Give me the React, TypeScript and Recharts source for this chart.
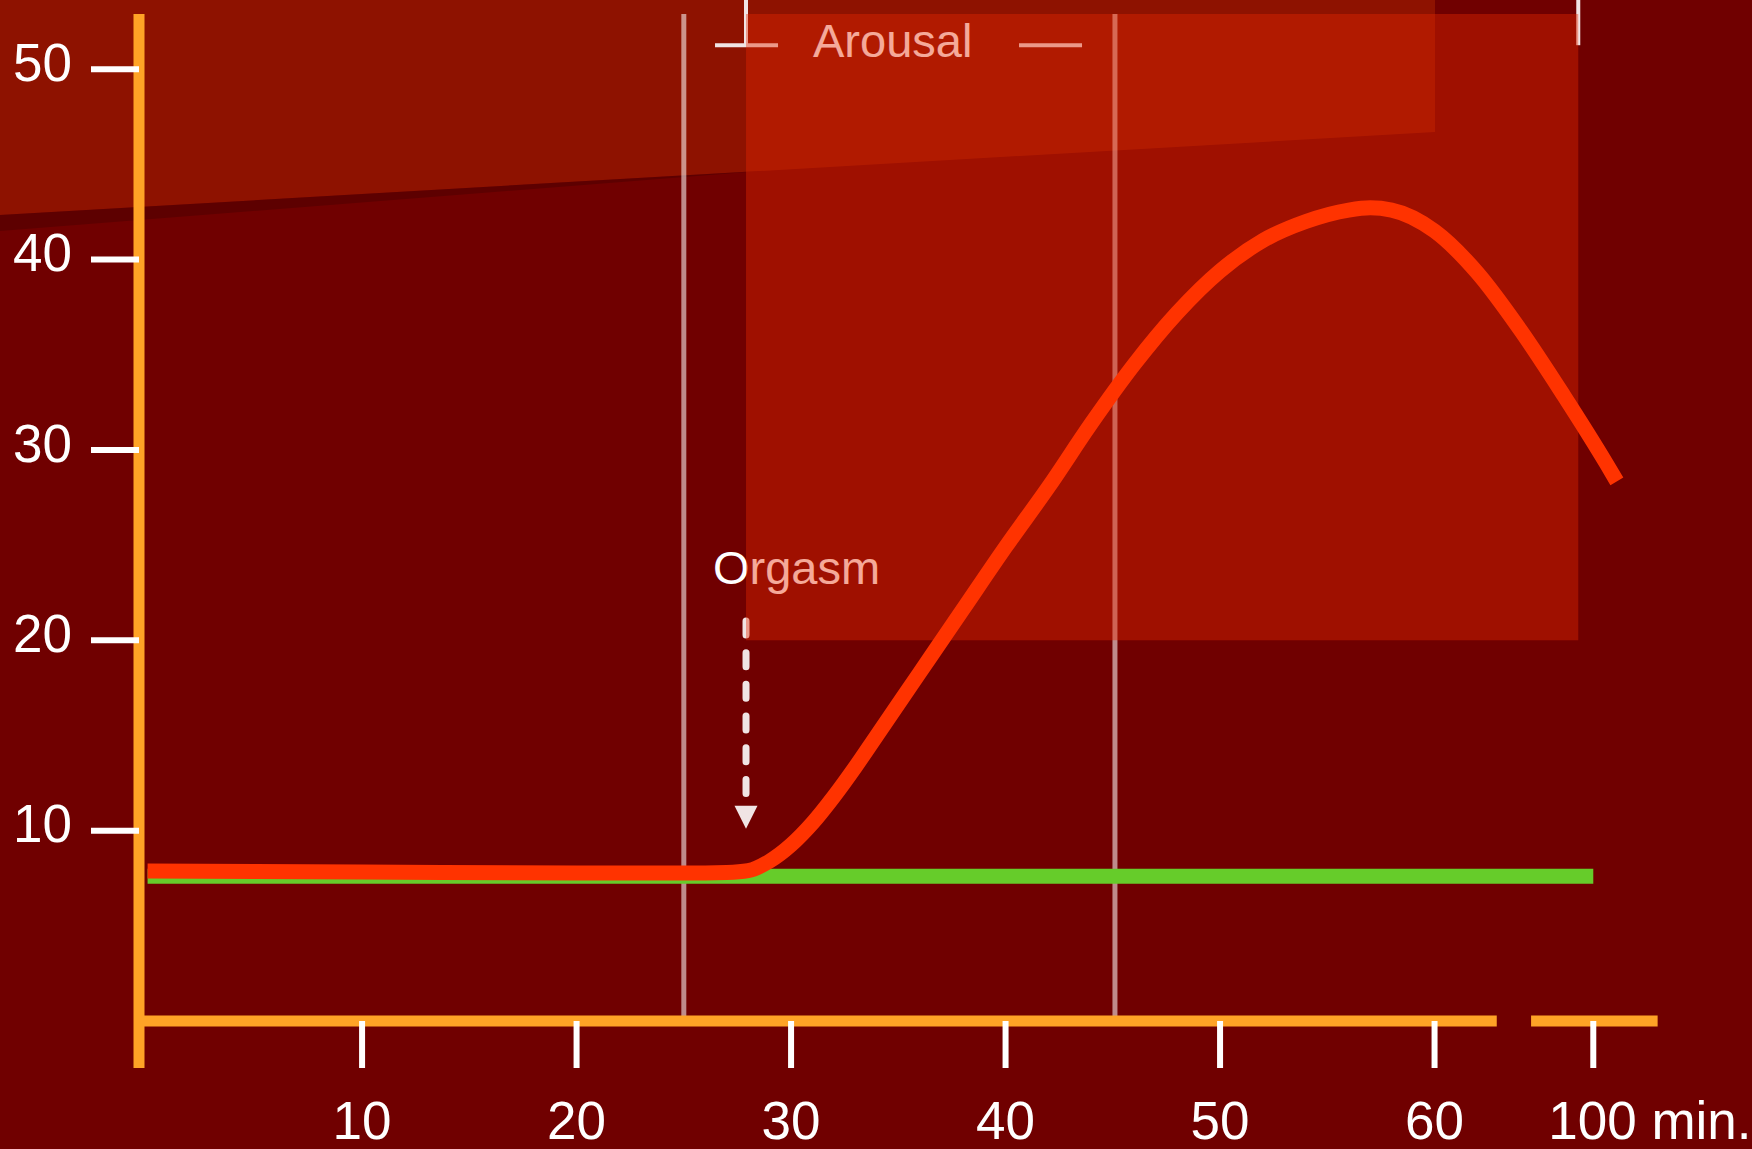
import {
  ComposedChart,
  Line,
  ReferenceArea,
  ReferenceLine,
  XAxis,
  YAxis,
} from "recharts";

// x values are positions on the (broken) time axis, 67.4 is where "100 min." sits
const responseMinutes = [
  0, 10, 20, 26, 27, 28, 29, 30, 31, 32, 33, 34, 36, 38, 40, 42, 44, 46, 48,
  50, 52, 54, 56, 57, 58, 60, 62, 64, 66, 68, 68.5,
];
const responseValues = [
  7.88, 7.83, 7.78, 7.78, 7.8, 7.9, 8.4, 9.25, 10.4, 11.8, 13.35, 15.0, 18.3,
  21.6, 24.9, 28.05, 31.4, 34.5, 37.2, 39.4, 41.0, 42.0, 42.6, 42.72, 42.6,
  41.5, 39.3, 36.3, 32.9, 29.3, 28.35,
];

const restingMinutes = [0, 67.4];
const restingValues = [7.6, 7.6];

const xTicks = [10, 20, 30, 40, 50, 60, 67.4];
const xTickLabels = ["10", "20", "30", "40", "50", "60", "100 min."];
const yTicks = [10, 20, 30, 40, 50];

const phaseLines = [25, 45.1];
const orgasmMinute = 27.9;
const arousalStart = 27.9;
const arousalEnd = 66.7;
const arousalFloor = 20;
const axisBreak = [62.9, 64.5];
const axisEnd = 70.4;

const X_MIN = -0.4;
const X_MAX = 71;
const Y_MAX = 52.9;

const FONT = "'Liberation Sans', Arial, Helvetica, sans-serif";
const ORANGE = "#FFA326";
const MARK = "#F0E4E4";

const responseData = responseMinutes.map((minute, i) => ({
  minute,
  value: responseValues[i],
}));
const restingData = restingMinutes.map((minute, i) => ({
  minute,
  value: restingValues[i],
}));

function XTick(props: any) {
  const { x, y, payload } = props;
  const idx = xTicks.indexOf(payload.value);
  const label = xTickLabels[idx] ?? String(payload.value);
  const last = idx === xTicks.length - 1;
  return (
    <text
      x={last ? x - 45 : x}
      y={y - 2}
      dy="0.71em"
      textAnchor={last ? "start" : "middle"}
      fill="#fff"
      fontSize={53}
      fontFamily={FONT}
    >
      {label}
    </text>
  );
}

function YTick(props: any) {
  const { x, y, payload } = props;
  return (
    <text
      x={x}
      y={y - 7}
      dy="0.355em"
      textAnchor="end"
      fill="#fff"
      fontSize={53}
      fontFamily={FONT}
    >
      {payload.value}
    </text>
  );
}

function OrgasmArrow(props: any) {
  const { x1, y1, y2 } = props;
  const head = 23;
  return (
    <g>
      <text x={x1 - 33} y={y1 - 33} fill="#fff" fontSize={47} fontFamily={FONT}>
        Orgasm
      </text>
      <line
        x1={x1}
        y1={y1 + 3.5}
        x2={x1}
        y2={y2 - head - 8}
        stroke={MARK}
        strokeWidth={7}
        strokeDasharray="14 17.7"
        strokeLinecap="round"
      />
      <polygon
        points={`${x1 - 11.5},${y2 - head} ${x1 + 11.5},${y2 - head} ${x1},${y2}`}
        fill={MARK}
      />
    </g>
  );
}

function ArousalBracket(props: any) {
  const { x1, y1, x2 } = props;
  return (
    <g>
      <line x1={x1} y1={y1 - 46} x2={x1} y2={y1} stroke={MARK} strokeWidth={4} />
      <line x1={x2} y1={y1 - 46} x2={x2} y2={y1} stroke={MARK} strokeWidth={4} />
      <line x1={x1 - 31} y1={y1} x2={x1 + 32} y2={y1} stroke={MARK} strokeWidth={4} />
      <text x={x1 + 67} y={y1 + 12} fill="#fff" fontSize={47} fontFamily={FONT}>
        Arousal
      </text>
      <line x1={x1 + 273} y1={y1} x2={x1 + 336} y2={y1} stroke={MARK} strokeWidth={4} />
    </g>
  );
}

export default function App() {
  return (
    <div
      style={{
        position: "absolute",
        left: 0,
        top: 0,
        width: 1752,
        height: 1149,
        background: "#700000",
        overflow: "hidden",
      }}
    >
      <svg
        width={1752}
        height={1149}
        style={{ position: "absolute", left: 0, top: 0 }}
      >
        <polygon points="0,0 1435,0 1435,132 0,215" fill="rgba(232,72,0,0.25)" />
        <polygon points="0,215 760,171 0,231" fill="rgba(50,0,0,0.3)" />
      </svg>
      <div style={{ position: "absolute", left: 0, top: 0 }}>
        <ComposedChart
          width={1752}
          height={1149}
          margin={{ top: 14, right: 81.5, bottom: 0, left: 0 }}
        >
          <XAxis
            type="number"
            dataKey="minute"
            domain={[X_MIN, X_MAX]}
            ticks={xTicks}
            interval={0}
            allowDataOverflow
            axisLine={false}
            tickLine={{ stroke: "#fff", strokeWidth: 6 }}
            tickSize={47}
            tickMargin={35}
            height={128}
            tick={<XTick />}
          />
          <YAxis
            type="number"
            domain={[0, Y_MAX]}
            ticks={yTicks}
            interval={0}
            allowDataOverflow
            width={139}
            axisLine={{ stroke: ORANGE, strokeWidth: 11 }}
            tickLine={{ stroke: "#fff", strokeWidth: 6 }}
            tickSize={48}
            tickMargin={19}
            tick={<YTick />}
          />

          {phaseLines.map((m) => (
            <ReferenceLine
              key={m}
              x={m}
              stroke="rgba(255,255,255,0.55)"
              strokeWidth={5}
              zIndex={101}
            />
          ))}
          <ReferenceLine
            segment={[
              { x: orgasmMinute, y: 21.2 },
              { x: orgasmMinute, y: 10.1 },
            ]}
            shape={<OrgasmArrow />}
            ifOverflow="visible"
            zIndex={102}
          />
          <ReferenceLine
            segment={[
              { x: arousalStart, y: 51.26 },
              { x: arousalEnd, y: 51.26 },
            ]}
            shape={<ArousalBracket />}
            ifOverflow="visible"
            zIndex={103}
          />
          <ReferenceArea
            x1={arousalStart}
            x2={arousalEnd}
            y1={arousalFloor}
            y2={Y_MAX}
            fill="rgb(231,40,0)"
            fillOpacity={0.4}
            stroke="none"
            ifOverflow="visible"
            zIndex={104}
          />

          <ReferenceLine
            segment={[
              { x: X_MIN, y: 0 },
              { x: axisBreak[0], y: 0 },
            ]}
            stroke={ORANGE}
            strokeWidth={11}
            ifOverflow="visible"
            zIndex={300}
          />
          <ReferenceLine
            segment={[
              { x: axisBreak[1], y: 0 },
              { x: axisEnd, y: 0 },
            ]}
            stroke={ORANGE}
            strokeWidth={11}
            ifOverflow="visible"
            zIndex={300}
          />
          <ReferenceLine
            segment={[
              { x: X_MIN, y: 0 },
              { x: X_MIN, y: -2.47 },
            ]}
            stroke={ORANGE}
            strokeWidth={11}
            ifOverflow="visible"
            zIndex={300}
          />

          <Line
            data={restingData}
            dataKey="value"
            type="linear"
            stroke="#66CC2A"
            strokeWidth={15}
            dot={false}
            activeDot={false}
            isAnimationActive={false}
          />
          <Line
            data={responseData}
            dataKey="value"
            type="monotone"
            stroke="#FF3300"
            strokeWidth={15}
            strokeLinejoin="round"
            dot={false}
            activeDot={false}
            isAnimationActive={false}
          />
        </ComposedChart>
      </div>
    </div>
  );
}
